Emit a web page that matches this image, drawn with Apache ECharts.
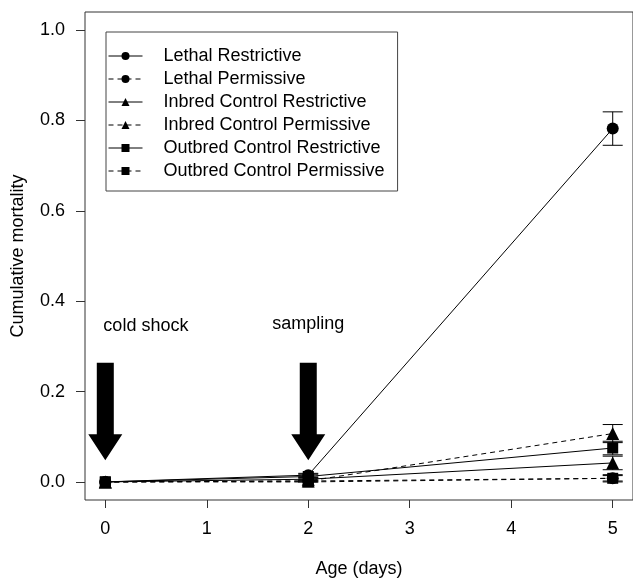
<!DOCTYPE html>
<html>
<head>
<meta charset="utf-8">
<script src="https://cdn.jsdelivr.net/npm/echarts@6/dist/echarts.min.js"></script>
<style>
  html, body { margin: 0; padding: 0; background: #fff; }
  #chart { width: 633px; height: 583px; }
</style>
</head>
<body>
<div id="chart"></div>
<script>
// data
const days = [0, 2, 5];
const groupNames = [
  "Lethal Restrictive",
  "Lethal Permissive",
  "Inbred Control Restrictive",
  "Inbred Control Permissive",
  "Outbred Control Restrictive",
  "Outbred Control Permissive"
];
const lethalRestrictive = [0, 0.015, 0.782];
const lethalPermissive = [0, 0.002, 0.008];
const inbredRestrictive = [0, 0.006, 0.042];
const inbredPermissive = [0, 0.002, 0.107];
const outbredRestrictive = [0, 0.012, 0.075];
const outbredPermissive = [0, 0.0, 0.008];

// standard errors (half length of bars)
const lethalRestrictiveErr = [0, 0.004, 0.037];
const lethalPermissiveErr = [0, 0.002, 0.006];
const inbredRestrictiveErr = [0, 0.004, 0.015];
const inbredPermissiveErr = [0, 0.002, 0.02];
const outbredRestrictiveErr = [0, 0.005, 0.015];
const outbredPermissiveErr = [0, 0.0, 0.008];

const yTicks = [0, 0.2, 0.4, 0.6, 0.8, 1.0];
const xTicks = [0, 1, 2, 3, 4, 5];

// arrows and their labels
const arrowDays = [0, 2];
const arrowTop = 0.264;
const arrowTip = 0.048;
const noteText = ["cold shock", "sampling"];
const noteX = [0.4, 2];
const noteY = [0.345, 0.35];

const means = [lethalRestrictive, lethalPermissive, inbredRestrictive, inbredPermissive, outbredRestrictive, outbredPermissive];
const errs = [lethalRestrictiveErr, lethalPermissiveErr, inbredRestrictiveErr, inbredPermissiveErr, outbredRestrictiveErr, outbredPermissiveErr];
const symbols = ["circle", "circle", "triangle", "triangle", "rect", "rect"];
const symbolSizes = [12, 12, 13, 13, 11, 11];
const dashed = [false, true, false, true, false, true];

const FONT = "Liberation Sans";

const chart = echarts.init(document.getElementById("chart"));

let series = [];
for (let i = 0; i < groupNames.length; i++) {
  series.push({
    name: groupNames[i],
    type: "line",
    data: days.map((d, j) => [d, means[i][j]]),
    symbol: symbols[i],
    symbolSize: symbolSizes[i],
    showAllSymbol: true,
    lineStyle: { color: "#000", width: 1, type: dashed[i] ? [5, 4] : "solid" },
    itemStyle: { color: "#000" },
    z: 3,
    animation: false
  });
}

// error bars
let errData = [];
for (let i = 0; i < groupNames.length; i++) {
  for (let j = 0; j < days.length; j++) {
    if (errs[i][j] > 0) {
      errData.push([days[j], means[i][j] - errs[i][j], means[i][j] + errs[i][j]]);
    }
  }
}
series.push({
  name: "errorbars",
  type: "custom",
  data: errData,
  z: 2,
  animation: false,
  renderItem: (params, api) => {
    const lo = api.coord([api.value(0), api.value(1)]);
    const hi = api.coord([api.value(0), api.value(2)]);
    const w = 10;
    const st = { stroke: "#000", lineWidth: 1 };
    return {
      type: "group",
      children: [
        { type: "line", shape: { x1: lo[0], y1: lo[1], x2: hi[0], y2: hi[1] }, style: st },
        { type: "line", shape: { x1: lo[0] - w, y1: lo[1], x2: lo[0] + w, y2: lo[1] }, style: st },
        { type: "line", shape: { x1: hi[0] - w, y1: hi[1], x2: hi[0] + w, y2: hi[1] }, style: st }
      ]
    };
  }
});

// big arrows
series.push({
  name: "arrows",
  type: "custom",
  data: arrowDays.map(d => [d, arrowTop, arrowTip]),
  z: 4,
  animation: false,
  renderItem: (params, api) => {
    const top = api.coord([api.value(0), api.value(1)]);
    const tip = api.coord([api.value(0), api.value(2)]);
    const x = tip[0];
    const sw = 8.5, hw = 17, hh = 26;
    return {
      type: "polygon",
      shape: {
        points: [
          [x - sw, top[1]], [x + sw, top[1]], [x + sw, tip[1] - hh], [x + hw, tip[1] - hh],
          [x, tip[1]], [x - hw, tip[1] - hh], [x - sw, tip[1] - hh]
        ]
      },
      style: { fill: "#000" }
    };
  }
});

// notes above arrows
series.push({
  name: "notes",
  type: "custom",
  data: noteX.map((x, i) => [x, noteY[i], i]),
  z: 4,
  animation: false,
  renderItem: (params, api) => {
    const p = api.coord([api.value(0), api.value(1)]);
    return {
      type: "text",
      x: p[0],
      y: p[1],
      style: {
        text: noteText[api.value(2)],
        fontSize: 18,
        fontFamily: FONT,
        fill: "#000",
        align: "center",
        verticalAlign: "middle"
      }
    };
  }
});

let option = {
  backgroundColor: "#fff",
  animation: false,
  textStyle: { fontFamily: FONT },
  grid: {
    show: true,
    left: 85,
    top: 12,
    width: 552,
    height: 494,
    borderColor: "#333",
    borderWidth: 1,
    backgroundColor: "transparent"
  },
  legend: {
    data: groupNames,
    orient: "vertical",
    left: 106,
    top: 32,
    padding: [15, 13, 11, 2],
    itemGap: 5,
    itemWidth: 34,
    itemHeight: 10,
    borderColor: "#444",
    borderWidth: 1,
    borderRadius: 0,
    selectedMode: false,
    lineStyle: { width: 1 },
    textStyle: {
      fontSize: 18,
      lineHeight: 18,
      fontFamily: FONT,
      color: "#000",
      padding: [0, 0, 0, 16]
    }
  },
  xAxis: {
    type: "value",
    min: -0.2,
    max: 5.2,
    name: "Age (days)",
    nameLocation: "middle",
    nameGap: 60,
    nameTextStyle: { fontSize: 18, fontFamily: FONT, color: "#000" },
    axisLine: { show: false, onZero: false },
    splitLine: { show: false },
    axisTick: { show: true, inside: false, length: 8, customValues: xTicks, lineStyle: { color: "#333" } },
    axisLabel: {
      customValues: xTicks,
      margin: 20,
      fontSize: 18,
      fontFamily: FONT,
      color: "#000"
    }
  },
  yAxis: {
    type: "value",
    min: -0.04,
    max: 1.04,
    name: "Cumulative mortality",
    nameLocation: "middle",
    nameGap: 58,
    nameTextStyle: { fontSize: 18, fontFamily: FONT, color: "#000" },
    axisLine: { show: false, onZero: false },
    splitLine: { show: false },
    axisTick: { show: true, inside: false, length: 9, customValues: yTicks, lineStyle: { color: "#333" } },
    axisLabel: {
      customValues: yTicks,
      margin: 20,
      fontSize: 18,
      fontFamily: FONT,
      color: "#000",
      formatter: v => v.toFixed(1)
    }
  },
  series: series
};
chart.setOption(option);
</script>
</body>
</html>
